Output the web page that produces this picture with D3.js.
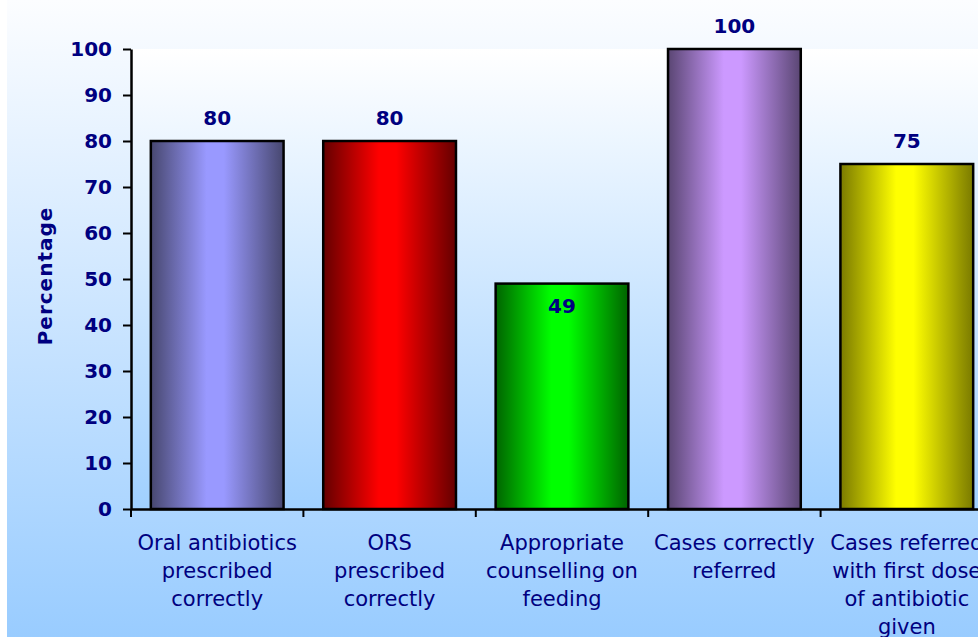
<!DOCTYPE html>
<html>
<head>
<meta charset="utf-8">
<script src="https://cdn.jsdelivr.net/npm/d3@7"></script>
<style>
  html, body { margin: 0; padding: 0; background: #ffffff; overflow: hidden; }
  svg { display: block; font-family: "DejaVu Sans", Verdana, sans-serif; }
</style>
</head>
<body>
<svg id="chart" width="978" height="637"></svg>
<script>
// ---- data ----
const categories = [
  "Oral antibiotics\nprescribed\ncorrectly",
  "ORS\nprescribed\ncorrectly",
  "Appropriate\ncounselling on\nfeeding",
  "Cases correctly\nreferred",
  "Cases referred\nwith first dose\nof antibiotic\ngiven"
];
const values = [80, 80, 49, 100, 75];
const yTicks = [0, 10, 20, 30, 40, 50, 60, 70, 80, 90, 100];
const yTitle = "Percentage";
const barLight = ["#9999ff", "#ff0000", "#00ff00", "#cc99ff", "#ffff00"];
const barDark  = ["#47476f", "#640000", "#006400", "#5a4673", "#7a7a00"];
const labelInside = [false, false, true, false, false];

// ---- layout ----
const svg = d3.select("#chart");
const W = 978, H = 637;
const plot = { left: 131, top: 49, right: 993, bottom: 509 };
const navy = "#000080";

const defs = svg.append("defs");
const bg = defs.append("linearGradient").attr("id", "bgGrad")
  .attr("x1", 0).attr("y1", 0).attr("x2", 0).attr("y2", 1);
bg.append("stop").attr("offset", "0%").attr("stop-color", "#fcfdff");
bg.append("stop").attr("offset", "100%").attr("stop-color", "#99ccff");
const pg = defs.append("linearGradient").attr("id", "plotGrad")
  .attr("x1", 0).attr("y1", 0).attr("x2", 0).attr("y2", 1);
pg.append("stop").attr("offset", "0%").attr("stop-color", "#ffffff");
pg.append("stop").attr("offset", "100%").attr("stop-color", "#a0d0ff");

values.forEach((v, i) => {
  const g = defs.append("linearGradient").attr("id", "barGrad" + i)
    .attr("x1", 0).attr("y1", 0).attr("x2", 1).attr("y2", 0);
  g.append("stop").attr("offset", "0%").attr("stop-color", barDark[i]);
  g.append("stop").attr("offset", "42%").attr("stop-color", barLight[i]);
  g.append("stop").attr("offset", "55%").attr("stop-color", barLight[i]);
  g.append("stop").attr("offset", "100%").attr("stop-color", barDark[i]);
});

svg.append("rect").attr("x", 0).attr("y", 0).attr("width", W).attr("height", H).attr("fill", "#ffffff");
svg.append("rect").attr("x", 7).attr("y", 0).attr("width", W - 7).attr("height", H).attr("fill", "url(#bgGrad)");
svg.append("rect").attr("x", plot.left).attr("y", plot.top)
  .attr("width", plot.right - plot.left).attr("height", plot.bottom - plot.top)
  .attr("fill", "url(#plotGrad)");

const x = d3.scaleBand().domain(categories).range([plot.left, plot.right])
  .paddingInner(0.23).paddingOuter(0.115);
const y = d3.scaleLinear().domain([0, 100]).range([plot.bottom, plot.top]);

// bars
svg.append("g").selectAll("rect").data(values).join("rect")
  .attr("x", (d, i) => x(categories[i]))
  .attr("y", d => y(d))
  .attr("width", x.bandwidth())
  .attr("height", d => y(0) - y(d))
  .attr("fill", (d, i) => `url(#barGrad${i})`)
  .attr("stroke", "#000").attr("stroke-width", 2.5);

// value labels
svg.append("g").selectAll("text").data(values).join("text")
  .attr("x", (d, i) => x(categories[i]) + x.bandwidth() / 2)
  .attr("y", (d, i) => labelInside[i] ? y(d) + 29 : y(d) - 16)
  .attr("text-anchor", "middle")
  .attr("font-size", 20).attr("font-weight", "bold").attr("fill", navy)
  .text(d => d);

// y axis
const yAxis = svg.append("g").attr("transform", `translate(${plot.left},0)`)
  .call(d3.axisLeft(y).tickValues(yTicks).tickSize(8).tickPadding(11).tickSizeOuter(0));
yAxis.select(".domain").attr("stroke", "#000").attr("stroke-width", 2.5);
yAxis.selectAll(".tick line").attr("stroke", "#000").attr("stroke-width", 2);
yAxis.selectAll(".tick text").attr("font-family", "DejaVu Sans, Verdana, sans-serif")
  .attr("font-size", 20).attr("font-weight", "bold").attr("fill", navy);

// x axis
const xAxis = svg.append("g").attr("transform", `translate(0,${plot.bottom})`)
  .call(d3.axisBottom(x).tickSize(0).tickPadding(0).tickSizeOuter(0));
xAxis.select(".domain").attr("stroke", "#000").attr("stroke-width", 2.5);
xAxis.selectAll(".tick text").remove();
xAxis.selectAll(".tick").each(function(d) {
  const t = d3.select(this).append("text")
    .attr("text-anchor", "middle").attr("fill", navy)
    .attr("font-family", "DejaVu Sans, Verdana, sans-serif").attr("font-size", 21);
  d.split("\n").forEach((line, k) => {
    t.append("tspan").attr("x", 0).attr("y", 41 + k * 28).text(line);
  });
});
// boundary tick marks
const step = x.step();
const bounds = categories.map(c => x(c) - step * x.paddingInner() / 2)
  .concat([x(categories[categories.length - 1]) + x.bandwidth() + step * x.paddingInner() / 2]);
xAxis.append("g").selectAll("line").data(bounds).join("line")
  .attr("x1", d => d).attr("x2", d => d).attr("y1", 0).attr("y2", 8)
  .attr("stroke", "#000").attr("stroke-width", 2);

// y title
svg.append("text")
  .attr("transform", `translate(52,${(plot.top + plot.bottom) / 2 - 3}) rotate(-90)`)
  .attr("text-anchor", "middle")
  .attr("font-size", 20).attr("font-weight", "bold").attr("fill", navy)
  .attr("letter-spacing", 1)
  .text(yTitle);
</script>
</body>
</html>
